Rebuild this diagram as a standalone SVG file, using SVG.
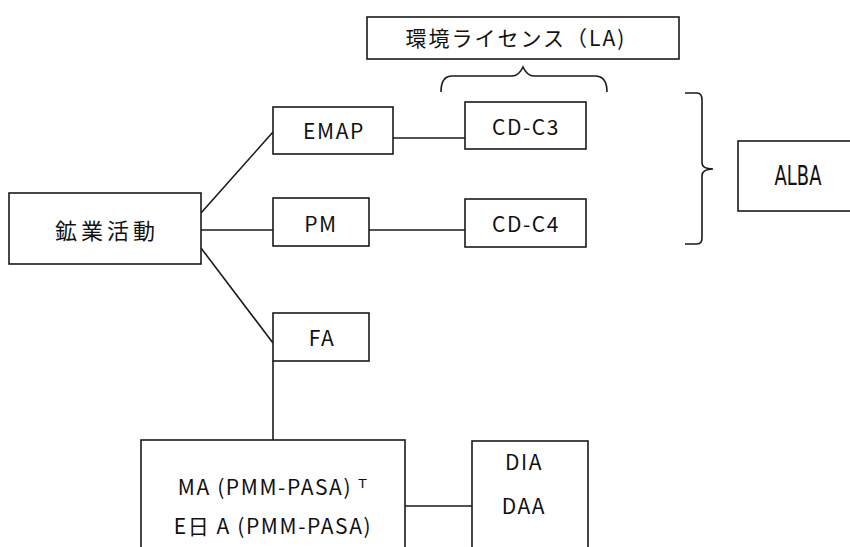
<svg xmlns="http://www.w3.org/2000/svg" width="850" height="547" viewBox="0 0 850 547">
<style>
.box{fill:#fff;stroke:#1a1a1a;stroke-width:1.6}
.ln{fill:none;stroke:#1a1a1a;stroke-width:1.6}
.t{font-family:"Noto Sans CJK JP","DejaVu Sans",sans-serif;font-size:21px;fill:#111;text-anchor:middle;letter-spacing:1.6px}
.j{font-size:22px;letter-spacing:4px}
.n{font-family:"DejaVu Sans Condensed","DejaVu Sans",sans-serif;font-size:21px;letter-spacing:0}
</style>
<rect width="850" height="547" fill="#fff"/>
<g id="connectors">
<line class="ln" x1="201" y1="213" x2="273" y2="132"/>
<line class="ln" x1="201" y1="230" x2="273" y2="230"/>
<line class="ln" x1="201" y1="248" x2="273" y2="343"/>
<line class="ln" x1="393" y1="138" x2="465" y2="138"/>
<line class="ln" x1="369" y1="230" x2="465" y2="230"/>
<line class="ln" x1="273" y1="361" x2="273" y2="440"/>
<line class="ln" x1="405" y1="506" x2="472" y2="506"/>
<path class="ln" d="M441,92 Q441,76 452,76 L512,76 Q519,76 523,67 Q527,76 534,76 L595,76 Q607,76 607,92"/>
<path class="ln" d="M685,93 L697,93 Q702,93 702,100 L702,163 Q702,169 713,169 Q702,169 702,176 L702,238 Q702,244 697,244 L685,244"/>
</g>
<g id="la"><rect class="box" x="367" y="17" width="312" height="42"/><text class="t" x="516" y="46" style="letter-spacing:2px">環境ライセンス（LA)</text></g>
<g id="mining"><rect class="box" x="9" y="193" width="192" height="71"/><text class="t j" x="107" y="239">鉱業活動</text></g>
<g id="emap"><rect class="box" x="273" y="107" width="120" height="47"/><text class="t" x="334" y="139">EMAP</text></g>
<g id="cdc3"><rect class="box" x="465" y="102" width="121" height="47"/><text class="t" x="526" y="135">CD-C3</text></g>
<g id="pm"><rect class="box" x="273" y="198" width="96" height="48"/><text class="t" x="321" y="232">PM</text></g>
<g id="cdc4"><rect class="box" x="465" y="199" width="121" height="48"/><text class="t" x="526" y="232">CD-C4</text></g>
<g id="fa"><rect class="box" x="273" y="313" width="96" height="48"/><text class="t" x="322" y="346">FA</text></g>
<g id="alba"><rect class="box" x="738" y="141" width="114" height="70"/><text class="t n" transform="translate(798,185) scale(0.95,1.3)">ALBA</text></g>
<g id="ma"><rect class="box" x="141" y="440" width="264" height="120"/><text class="t" x="273" y="495">MA (PMM-PASA) ᵀ</text><text class="t" x="273" y="534">E日 A (PMM-PASA)</text></g>
<g id="dia"><rect class="box" x="472" y="441" width="116" height="120"/><text class="t" x="524" y="470">DIA</text><text class="t" x="524" y="514">DAA</text></g>
</svg>
